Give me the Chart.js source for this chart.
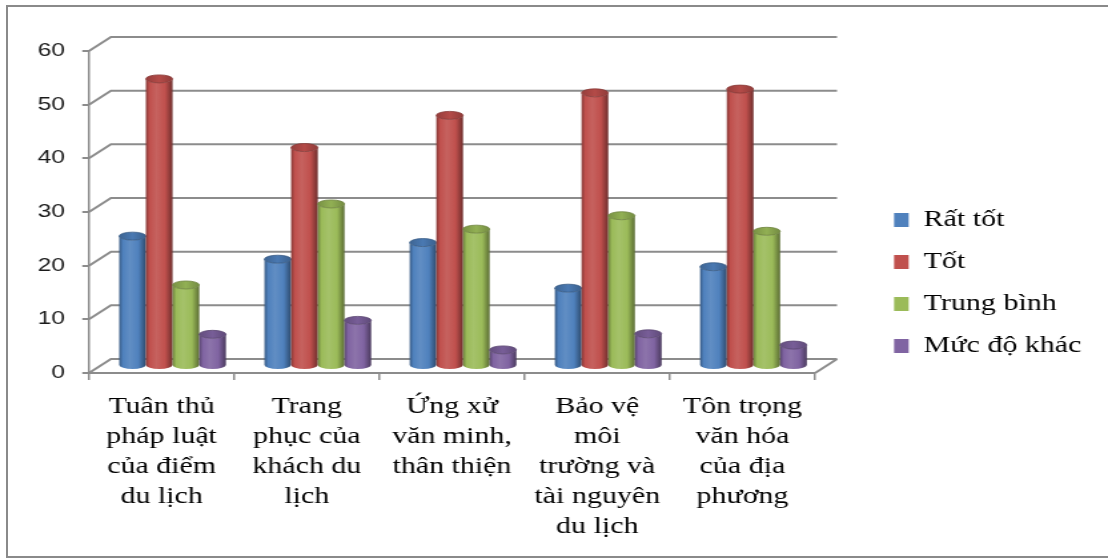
<!DOCTYPE html>
<html>
<head>
<meta charset="utf-8">
<script src="https://cdn.jsdelivr.net/npm/chart.js@4"></script>
<style>
  html, body { margin: 0; padding: 0; background: #fff; overflow: hidden; }
  #frame { position: absolute; left: 6px; top: 5px; width: 1110px; height: 549px; border: 2px solid #8a8a8a; border-right: none; }
  #chart { position: absolute; left: 0; top: 0; }
</style>
</head>
<body>
<div id="frame"></div>
<!-- drawn 832 wide and shown stretched to 1108, like the original Excel picture -->
<canvas id="chart" width="832" height="559" style="width:1108px;height:559px"></canvas>
<script>
const categories = [
  ['Tuân thủ', 'pháp luật', 'của điểm', 'du lịch'],
  ['Trang', 'phục của', 'khách du', 'lịch'],
  ['Ứng xử', 'văn minh,', 'thân thiện'],
  ['Bảo vệ', 'môi', 'trường và', 'tài nguyên', 'du lịch'],
  ['Tôn trọng', 'văn hóa', 'của địa', 'phương']
];
const seriesNames = ['Rất tốt', 'Tốt', 'Trung bình', 'Mức độ khác'];
const ratTot = [24.2, 19.9, 23.0, 14.5, 18.5];
const tot = [53.5, 40.7, 46.7, 50.9, 51.6];
const trungBinh = [15.1, 30.2, 25.5, 28.0, 25.1];
const mucDoKhac = [5.9, 8.5, 3.0, 6.0, 3.9];
const yTicks = [0, 10, 20, 30, 40, 50, 60];
const colors = ['#4F81BD', '#C0504D', '#9BBB59', '#8064A2'];

const GRID = '#8c8c8c';
const DX = 16.5;   // depth of the back wall
const DY = -14;

function shade(hex, amt) {
  const n = parseInt(hex.slice(1), 16);
  const t = amt < 0 ? 0 : 255, p = Math.abs(amt);
  const c = [n >> 16, (n >> 8) & 255, n & 255].map(v => Math.round(v + (t - v) * p));
  return 'rgb(' + c.join(',') + ')';
}

function drawCylinder(ctx, cx, top, bottom, w, color) {
  const rx = w / 2, ry = 4, l = cx - rx, r = cx + rx;
  const body = ctx.createLinearGradient(l, 0, r, 0);
  body.addColorStop(0, shade(color, -0.3));
  body.addColorStop(0.14, color);
  body.addColorStop(0.4, shade(color, 0.1));
  body.addColorStop(0.72, color);
  body.addColorStop(0.92, shade(color, -0.3));
  body.addColorStop(1, shade(color, -0.42));
  ctx.fillStyle = body;
  ctx.beginPath();
  ctx.moveTo(l, top);
  ctx.lineTo(l, bottom);
  ctx.ellipse(cx, bottom, rx, ry, 0, Math.PI, 0, true);
  ctx.lineTo(r, top);
  ctx.ellipse(cx, top, rx, ry, 0, 0, Math.PI, false);
  ctx.closePath();
  ctx.fill();

  const cap = ctx.createLinearGradient(l, 0, r, 0);
  cap.addColorStop(0, shade(color, -0.22));
  cap.addColorStop(0.5, shade(color, -0.06));
  cap.addColorStop(1, shade(color, -0.25));
  ctx.fillStyle = cap;
  ctx.beginPath();
  ctx.ellipse(cx, top, rx, ry, 0, 0, Math.PI * 2);
  ctx.fill();
  ctx.strokeStyle = shade(color, -0.3);
  ctx.lineWidth = 0.8;
  ctx.stroke();
}

// back wall, floor edge and the cylinders themselves
const depthPlugin = {
  id: 'depth',
  beforeDatasetsDraw(chart) {
    const {ctx, chartArea: a} = chart;
    const y = chart.scales.y;
    ctx.save();
    ctx.strokeStyle = GRID;
    ctx.lineWidth = 2;
    yTicks.forEach(v => {
      const py = y.getPixelForValue(v);
      ctx.beginPath();
      ctx.moveTo(a.left, py);
      ctx.lineTo(a.left + DX, py + DY);
      ctx.lineTo(a.right + DX, py + DY);
      ctx.stroke();
    });
    const p0 = y.getPixelForValue(0);
    ctx.beginPath();
    ctx.moveTo(a.right, p0);
    ctx.lineTo(a.right + DX, p0 + DY);
    ctx.stroke();

    const metas = chart.getSortedVisibleDatasetMetas();
    for (let i = 0; i < categories.length; i++) {
      metas.forEach(meta => {
        const p = meta.data[i].getProps(['x', 'y', 'base', 'width'], true);
        drawCylinder(ctx, p.x + DX / 2, p.y + DY / 2, p.base + DY / 2, p.width, colors[meta.index]);
      });
    }
    ctx.restore();
    return false;
  }
};

const serifFont = { family: 'Liberation Serif', size: 22.5 };

// invisible axes that only reserve room
const spacer = (position, size) => ({
  type: 'linear',
  position: position,
  grid: { display: false },
  border: { display: false },
  ticks: { display: false },
  afterFit: s => { if (position === 'top') s.height = size; else s.width = size; }
});

new Chart(document.getElementById('chart'), {
  type: 'bar',
  data: {
    labels: categories,
    datasets: [ratTot, tot, trungBinh, mucDoKhac].map((d, i) => ({
      label: seriesNames[i],
      data: d,
      backgroundColor: colors[i],
      borderWidth: 0,
      categoryPercentage: 0.735,
      barPercentage: 1
    }))
  },
  options: {
    responsive: false,
    devicePixelRatio: 1,
    animation: false,
    events: [],
    layout: { padding: { left: 0, top: 0, right: 10, bottom: 0 } },
    scales: {
      x: {
        grid: { offset: true, drawOnChartArea: false, drawTicks: true, tickLength: 7, color: GRID, lineWidth: 1.5 },
        border: { display: true, color: GRID, width: 2 },
        ticks: { color: '#000', padding: 12, maxRotation: 0, autoSkip: false, font: { family: 'Liberation Serif', size: 22.5, lineHeight: 1.333 } },
        afterFit: s => { s.height = 186; }
      },
      y: {
        min: 0,
        max: 60,
        ticks: { stepSize: 10, padding: 13, color: '#1a1a1a', font: { family: 'Liberation Sans', size: 18.5 } },
        grid: { drawOnChartArea: false, drawTicks: true, tickLength: 5, color: GRID, lineWidth: 2 },
        border: { display: true, color: GRID, width: 1.5 },
        afterFit: s => { s.width = 66.8; }
      },
      topGap: spacer('top', 51),
      gap: spacer('right', 39.8)
    },
    plugins: {
      legend: {
        position: 'right',
        maxWidth: 220,
        title: { display: true, text: '', font: { size: 6 }, padding: 0 },
        labels: { boxWidth: 11, boxHeight: 14, padding: 19.5, color: '#000', font: serifFont }
      },
      tooltip: { enabled: false }
    }
  },
  plugins: [depthPlugin]
});
</script>
</body>
</html>
